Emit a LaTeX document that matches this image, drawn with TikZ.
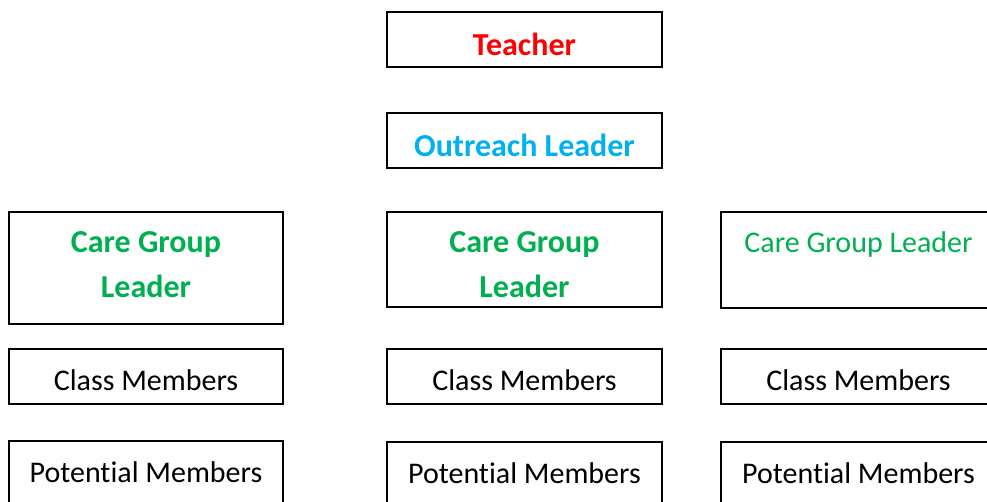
\documentclass[tikz,border=0pt]{standalone}
\usepackage{fontspec}
\setmainfont{Carlito}[Ligatures=NoCommon]
\usetikzlibrary{positioning}
\definecolor{leadred}{rgb}{1.0, 0, 0}
\definecolor{outreachblue}{rgb}{0, 0.690196, 0.941176}
\definecolor{caregreen}{rgb}{0, 0.690196, 0.313725}

\begin{document}
\begin{tikzpicture}[x=1pt, y=-1pt,
    box/.style={draw, inner sep=0pt, line width=1.3pt, minimum width=275pt, minimum height=55pt,
        text height=28pt, text depth=0pt, font=\fontsize{30}{45}\selectfont},
    boldbox/.style={box, text height=32pt, font=\fontsize{32}{45}\selectfont\bfseries},
    carebox/.style={boldbox, align=center, text=caregreen},
    potbox/.style={box, minimum height=75pt, text depth=20pt}]
                    \clip (0, 0) rectangle (987, 502);

                    \node[boldbox, line width=2.6pt, text=leadred] (T) at (524.5, 39.5) {Teacher};
                    \node[boldbox, text=outreachblue] (O) at (524.5, 140.5) {Outreach Leader};

                    \node[carebox, minimum width=274pt, minimum height=112pt, text height=65pt, text depth=6pt] (Cg1) at (146, 268) {Care Group\\Leader};
                    \node[carebox, minimum height=95pt, text height=80pt, text depth=4pt] (Cg2) at (524.5, 259.5) {Care Group\\Leader};
                    \node[box, minimum height=96pt, text=caregreen, text height=20pt, text depth=35pt] (Cg3) at (858.5, 260) {Care Group Leader};

                    \node[box, minimum width=274pt] (Cm1) at (146, 376.5) {Class Members};
                    \node[box] (Cm2) at (524.5, 376.5) {Class Members};
                    \node[box] (Cm3) at (858.5, 376.5) {Class Members};

                    \node[potbox, minimum width=274pt] (Pm1) at (146, 478.5) {Potential Members};
                    \node[potbox] (Pm2) at (524.5, 479.5) {Potential Members};
                    \node[potbox] (Pm3) at (858.5, 479.5) {Potential Members};
            \end{tikzpicture}
\end{document}
